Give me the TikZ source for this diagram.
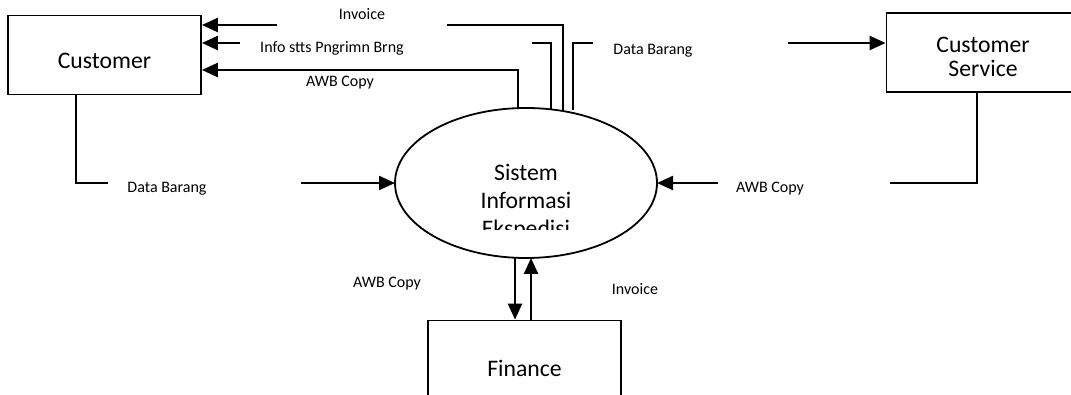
\documentclass[tikz,border=0pt]{standalone}
\usepackage{fontspec}
\setmainfont{Carlito}
\usetikzlibrary{arrows.meta,shapes.geometric}
\tikzset{
	ent/.style={draw,line width=1.8pt,minimum width=193pt,minimum height=79pt,inner sep=0pt,text depth=0pt,font=\fontsize{23.7}{24}\selectfont,align=center},
	proc/.style={draw,ellipse,line width=1.8pt,minimum width=262pt,minimum height=150pt,inner sep=0pt,outer sep=0pt},
	lbl/.style={inner sep=0pt,font=\fontsize{16}{19}\selectfont},
	flow/.style={line width=2.3pt},
	flowarrow/.style={flow,-{Triangle[length=16pt,width=14pt]}}
}
\newcommand{\cutlbl}[4]{%
	\begin{scope}
		\clip (#2-95,#3-25) rectangle (#2+95,#3+1.5);
		\node[lbl,anchor=base] (#1) at (#2,#3) {#4};
	\end{scope}}
\begin{document}
\begin{tikzpicture}[x=1pt,y=-1pt]
	\useasboundingbox (0,0) rectangle (1071,395);
	\node[ent,text height=28pt] (cust) at (104.5,55) {Customer};
	\node[ent,text height=49pt] (cs) at (983,52.5) {Customer\\Service};
	\node[ent,text height=32pt] (fin) at (524.5,360) {Finance};
	\node[proc] (sys) at (526,183) {};
	\begin{scope}
		\clip (395,150) rectangle (657,230);
		\node[align=center,inner sep=0pt,font=\fontsize{23.7}{28}\selectfont] (systxt) at (526,202) {Sistem\\Informasi\\Ekspedisi};
	\end{scope}
	\coordinate (invA) at (447,25);
	\coordinate (invB) at (277,25);
	\coordinate (infA) at (532,43);
	\coordinate (infB) at (240,43);
	\coordinate (awbT) at (517,70);
	\coordinate (dbA) at (593,43);
	\coordinate (dbB) at (788,43);
	\coordinate (dlT) at (76,183);
	\coordinate (dlA) at (108,183);
	\coordinate (dlB) at (301,183);
	\coordinate (awrT) at (977,183);
	\coordinate (awrA) at (890,183);
	\coordinate (awrB) at (718,183);
	\coordinate (fdn) at (515,290);
	\coordinate (fup) at (531,290);
	\draw[flow] (sys.63.47) |- (invA);
	\draw[flowarrow] (invB) -- (cust.east |- invB);
	\draw[flow] (sys.71.24) |- (infA);
	\draw[flowarrow] (infB) -- (cust.east |- infB);
	\draw[flowarrow] (sys.96.86) |- (cust.east |- awbT);
	\draw[flow,shorten <=3pt] (sys.56.13) |- (dbA);
	\draw[flowarrow] (dbB) -- (cs.west |- dbB);
	\draw[flow] (cust.south -| dlT) -- (dlT) -- (dlA);
	\draw[flowarrow] (dlB) -- (sys.west);
	\draw[flow] (cs.south -| awrT) -- (awrT) -- (awrA);
	\draw[flowarrow] (awrB) -- (sys.east);
	\draw[flowarrow] (sys.south -| fdn) -- (fin.north -| fdn);
	\draw[flowarrow] (fin.north -| fup) -- (sys.south -| fup);
	\cutlbl{invlbl}{362}{19.5}{Invoice}
	\cutlbl{inflbl}{332}{53}{Info stts Pngrimn Brng}
	\cutlbl{awblbl}{340}{87}{AWB Copy}
	\cutlbl{dblbl}{653}{55}{Data Barang}
	\cutlbl{dllbl}{167}{193}{Data Barang}
	\cutlbl{awrlbl}{770}{193}{AWB Copy}
	\cutlbl{awflbl}{387}{288}{AWB Copy}
	\cutlbl{invflbl}{635}{295}{Invoice}
\end{tikzpicture}
\end{document}
